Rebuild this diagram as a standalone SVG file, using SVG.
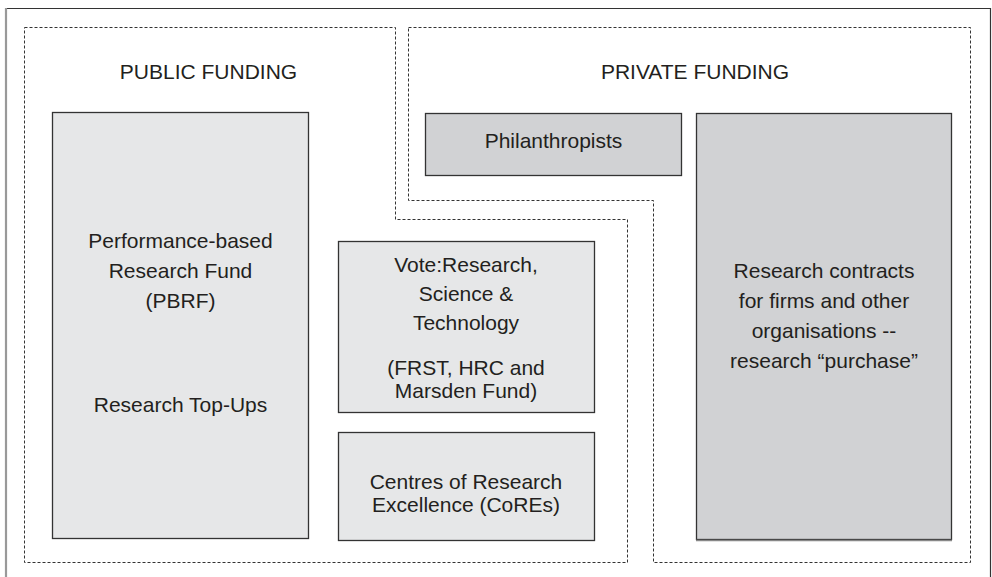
<svg xmlns="http://www.w3.org/2000/svg" width="992" height="577" viewBox="0 0 992 577">
  <style>
    text { font-family: "Liberation Sans", Arial, sans-serif; font-size: 21px; fill: #231f20; text-anchor: middle; }
    .region { fill: none; stroke: #333; stroke-width: 1; stroke-dasharray: 3 2; }
    .light { fill: #e6e7e8; stroke: #333; stroke-width: 1.3; }
    .mid { fill: #d1d2d4; stroke: #333; stroke-width: 1.3; }
    .shadow { fill: none; stroke: #888; stroke-width: 1.5; }
  </style>

  <rect width="992" height="577" fill="#ffffff"/>

  <!-- outer frame -->
  <g id="frame">
    <path d="M6 580 V8.5 H990.5 V580" fill="none" stroke="#333" stroke-width="1.2"/>
    <line x1="6" y1="8" x2="6" y2="580" stroke="#999" stroke-width="2.2"/>
  </g>

  <!-- funding regions -->
  <g id="public-funding">
    <path class="region" d="M24.5 27.5 H395.5 V219.5 H627.5 V562.5 H24.5 Z"/>
    <text x="208.5" y="79">PUBLIC FUNDING</text>
  </g>
  <g id="private-funding">
    <path class="region" d="M408.5 27.5 H970.5 V562.5 H653.5 V200.5 H408.5 Z"/>
    <text x="695" y="79">PRIVATE FUNDING</text>
  </g>

  <!-- public funding nodes -->
  <g id="pbrf">
    <rect class="light" x="52.5" y="112.5" width="256" height="426"/>
    <text x="180.5" y="248">Performance-based</text>
    <text x="180.5" y="278">Research Fund</text>
    <text x="180.5" y="308">(PBRF)</text>
    <text x="180.5" y="412">Research Top-Ups</text>
  </g>

  <g id="vote-rst">
    <rect class="light" x="338.5" y="241.5" width="256" height="171"/>
    <text x="466" y="272">Vote:Research,</text>
    <text x="466" y="301">Science &amp;</text>
    <text x="466" y="330">Technology</text>
    <text x="466" y="375">(FRST, HRC and</text>
    <text x="466" y="398">Marsden Fund)</text>
  </g>

  <g id="cores">
    <rect class="light" x="338.5" y="432.5" width="256" height="108"/>
    <text x="466" y="489">Centres of Research</text>
    <text x="466" y="512">Excellence (CoREs)</text>
  </g>

  <!-- private funding nodes -->
  <g id="philanthropists">
    <rect class="mid" x="425.5" y="113.5" width="256" height="62"/>
    <text x="553.5" y="148">Philanthropists</text>
  </g>

  <g id="research-contracts">
    <rect class="mid" x="696.5" y="113.5" width="255" height="426"/>
    <line class="shadow" x1="696" y1="540.5" x2="952" y2="540.5"/>
    <text x="824" y="278">Research contracts</text>
    <text x="824" y="308">for firms and other</text>
    <text x="824" y="338">organisations --</text>
    <text x="824" y="368">research “purchase”</text>
  </g>
</svg>
